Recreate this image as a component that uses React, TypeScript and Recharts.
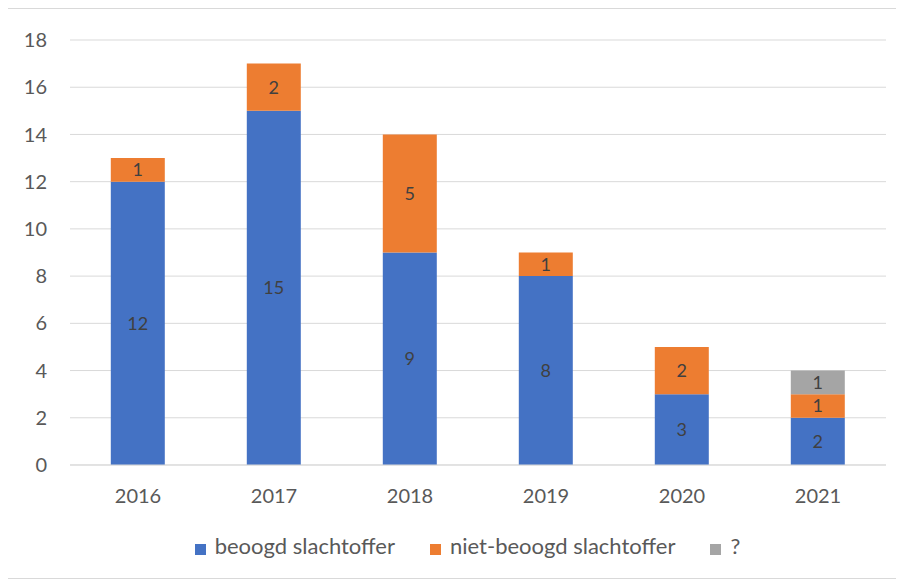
import React from 'react';
import { BarChart, Bar, XAxis, YAxis, CartesianGrid, Legend, LabelList } from 'recharts';

// jaren en aantallen per soort slachtoffer
const years = ['2016', '2017', '2018', '2019', '2020', '2021'];
const beoogd = [12, 15, 9, 8, 3, 2];
const nietBeoogd = [1, 2, 5, 1, 2, 1];
const onbekend = [null, null, null, null, null, 1];
const yTicks = [0, 2, 4, 6, 8, 10, 12, 14, 16, 18];

const data = years.map((year, i) => ({
    year,
    beoogd: beoogd[i],
    niet: nietBeoogd[i],
    onbekend: onbekend[i],
}));

const font = 'Lato, "Open Sans", sans-serif';
const labelStyle = { fill: '#404040', fontSize: 18, fontFamily: font };
const tickStyle = { fill: '#595959', fontSize: 20, fontFamily: font };

const App: React.FC = () => {
    return (
        <div
            style={{
                width: 892,
                height: 569,
                border: '1px solid #d9d9d9',
                marginLeft: -1,
                background: '#fff',
                fontFamily: font,
            }}
        >
            <BarChart
                width={892}
                height={569}
                data={data}
                margin={{ top: 31, right: 14, left: 0, bottom: 19 }}
                barCategoryGap="30%"
            >
                <CartesianGrid vertical={false} stroke="#d9d9d9" />
                <XAxis
                    dataKey="year"
                    axisLine={{ stroke: '#d9d9d9' }}
                    tickLine={false}
                    tick={tickStyle}
                    tickMargin={18}
                    height={67}
                />
                <YAxis
                    domain={[0, 18]}
                    ticks={yTicks}
                    axisLine={false}
                    tickLine={false}
                    tick={tickStyle}
                    width={62}
                    tickMargin={17}
                />
                <Legend
                    verticalAlign="bottom"
                    iconType="square"
                    iconSize={11}
                    itemSorter="dataKey"
                    wrapperStyle={{ left: 38 }}
                    formatter={(value) => (
                        <span style={{ color: '#595959', fontSize: 22, fontFamily: font, paddingLeft: 5, marginRight: 25 }}>
                            {value}
                        </span>
                    )}
                />
                <Bar dataKey="beoogd" name="beoogd slachtoffer" stackId="a" fill="#4472c4" isAnimationActive={false}>
                    <LabelList dataKey="beoogd" position="center" style={labelStyle} />
                </Bar>
                <Bar dataKey="niet" name="niet-beoogd slachtoffer" stackId="a" fill="#ed7d31" isAnimationActive={false}>
                    <LabelList dataKey="niet" position="center" style={labelStyle} />
                </Bar>
                <Bar dataKey="onbekend" name="?" stackId="a" fill="#a5a5a5" isAnimationActive={false}>
                    <LabelList dataKey="onbekend" position="center" style={labelStyle} />
                </Bar>
            </BarChart>
        </div>
    );
};

export default App;
